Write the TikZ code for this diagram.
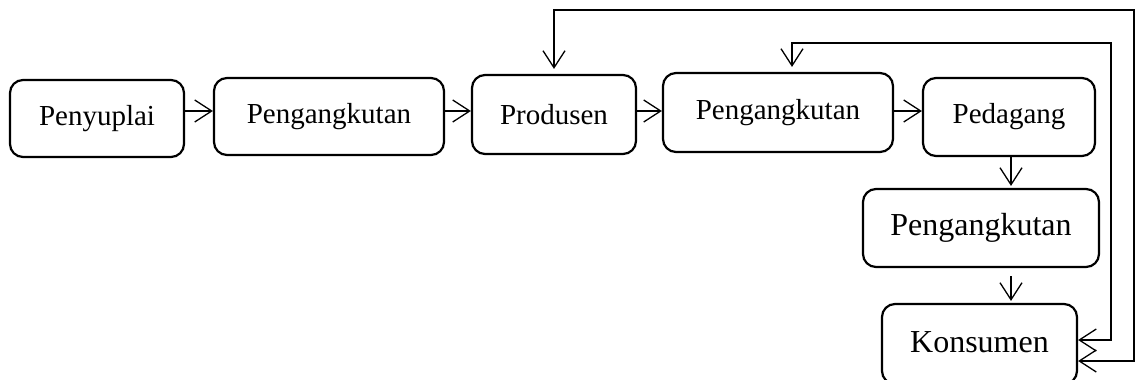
\documentclass[tikz,border=0pt]{standalone}
\usepackage{fontspec}
\setmainfont{Liberation Serif}
\usetikzlibrary{arrows.meta}
\begin{document}
\begin{tikzpicture}[x=1pt,y=-1pt,
  box/.style={draw, line width=2.2pt, rounded corners=13pt, inner sep=0pt, anchor=center},
  toprow/.style={box, font=\fontsize{29}{33}\selectfont},
  botrow/.style={box, font=\fontsize{32}{36}\selectfont},
  tip/.style={Straight Barb[length=17pt,width=22pt,line width=1.3pt]},
  arr/.style={line width=1.3pt, -{Straight Barb[length=17pt,width=22pt,line width=1.3pt]}},
  darr/.style={line width=1.3pt, {Straight Barb[length=17pt,width=22pt,line width=1.3pt]}-{Straight Barb[length=17pt,width=22pt,line width=1.3pt]}}]
\useasboundingbox (0,0) rectangle (1136,380);
\clip (0,0) rectangle (1136,380);
\node[toprow, minimum width=174pt, minimum height=77pt] (pen) at (97,118.5) {Penyuplai};
\node[toprow, minimum width=230pt, minimum height=77pt] (ang1) at (329,116.5) {Pengangkutan};
\node[toprow, minimum width=164pt, minimum height=79pt] (pro) at (554,114.5) {Produsen};
\node[toprow, minimum width=230pt, minimum height=79pt] (ang2) at (778,112.5) {\raisebox{4pt}{Pengangkutan}};
\node[toprow, minimum width=172pt, minimum height=78pt] (ped) at (1009,117) {Pedagang};
\node[botrow, minimum width=236pt, minimum height=78pt] (ang3) at (981,228) {Pengangkutan};
\node[botrow, minimum width=195pt, minimum height=80pt] (kon) at (979.5,344) {\raisebox{3pt}{Konsumen}};
\coordinate (row) at (0,111);
\coordinate (col) at (1011,0);
\coordinate (r1) at (1111,340);
\coordinate (r2) at (1134,361);
\coordinate (t1) at (1111,43);
\coordinate (t2) at (1134,10);
\draw[arr] (pen.east |- row) -- (ang1.west |- row);
\draw[arr] (ang1.east |- row) -- (pro.west |- row);
\draw[arr] (pro.east |- row) -- (ang2.west |- row);
\draw[arr] (ang2.east |- row) -- (ped.west |- row);
\draw[arr] (ped.south -| col) -- ([yshift=2pt]ang3.north -| col);
\draw[arr] ([yshift=-8pt]ang3.south -| col) -- ([yshift=2pt]kon.north -| col);
\draw[darr] ([yshift=5pt]pro.north) -- (pro.north |- t2) -- (t2) -- (r2) -- (kon.east |- r2);
\draw[darr] ([xshift=14pt,yshift=5pt]ang2.north) -- ([xshift=14pt]ang2.north |- t1) -- (t1) -- (r1) -- (kon.east |- r1);
\end{tikzpicture}
\end{document}
